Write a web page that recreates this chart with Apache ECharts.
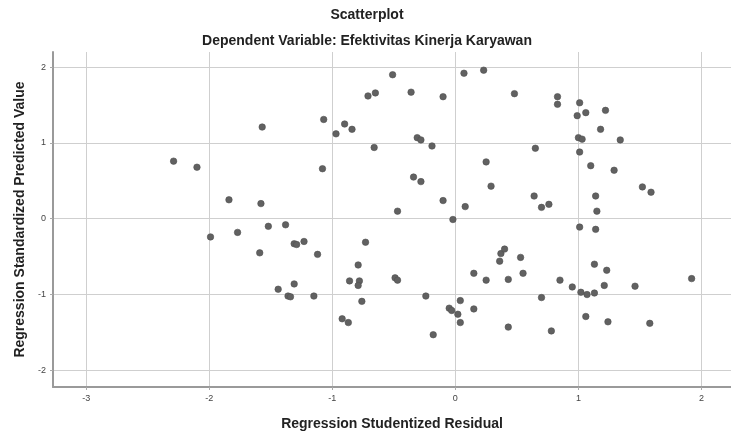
<!DOCTYPE html>
<html>
<head>
<meta charset="utf-8">
<script src="https://cdn.jsdelivr.net/npm/echarts@6/dist/echarts.min.js"></script>
<style>html,body{margin:0;padding:0;background:#fff}#c{width:731px;height:432px}</style>
</head>
<body>
<div id="c"></div>
<script>
const titleText = "Scatterplot";
const subtitleText = "Dependent Variable: Efektivitas Kinerja Karyawan";
const xAxisTitle = "Regression Studentized Residual";
const yAxisTitle = "Regression Standardized Predicted Value";
const xRange = [-3.27, 2.24];
const yRange = [-2.22, 2.2];

const residuals = [
  -1.57, -2.29, -2.10, -1.84, -1.58, -1.52, -1.38, -1.99, -1.77, -1.59, -1.44, -1.36,
  -0.51, 0.07, 0.23, -0.71, -0.65, -0.36, -0.10, 0.48, -1.07, -0.90, -0.97, -0.84,
  -0.31, -0.28, -0.19, -0.66, 0.25, -1.08, -0.34, -0.28, 0.29, -0.10, 0.08, -0.47, -0.02,
  0.83, 0.83, 1.01, 0.99, 1.06, 1.22, 1.18, 1.34, 1.00, 1.03, 0.65, 1.01, 1.10, 1.29,
  1.52, 1.59, 0.64, 1.14, 0.70, 0.76, 1.15, 1.01, 1.14,
  -1.31, -1.29, -1.23, -1.12, -1.31, -1.34, -1.15, -0.73, -0.79, -0.86, -0.78, -0.79,
  -0.76, -0.92, -0.87, -0.49, -0.47, -0.24, -0.18, 0.04, -0.05, -0.03, 0.02, 0.04,
  0.15, 0.25, 0.15, 0.37, 0.40, 0.36, 0.43, 0.53, 0.55, 0.43,
  0.85, 0.95, 1.02, 1.07, 1.13, 1.13, 1.23, 1.21, 1.46, 1.92, 0.70, 1.06, 1.24, 1.58, 0.78
];
const predicted = [
  1.21, 0.76, 0.68, 0.25, 0.20, -0.10, -0.08, -0.24, -0.18, -0.45, -0.93, -1.02,
  1.90, 1.92, 1.96, 1.62, 1.66, 1.67, 1.61, 1.65, 1.31, 1.25, 1.12, 1.18,
  1.07, 1.04, 0.96, 0.94, 0.75, 0.66, 0.55, 0.49, 0.43, 0.24, 0.16, 0.10, -0.01,
  1.61, 1.51, 1.53, 1.36, 1.40, 1.43, 1.18, 1.04, 1.07, 1.05, 0.93, 0.88, 0.70, 0.64,
  0.42, 0.35, 0.30, 0.30, 0.15, 0.19, 0.10, -0.11, -0.14,
  -0.33, -0.34, -0.30, -0.47, -0.86, -1.03, -1.02, -0.31, -0.61, -0.82, -0.82, -0.88,
  -1.09, -1.32, -1.37, -0.78, -0.81, -1.02, -1.53, -1.08, -1.18, -1.21, -1.26, -1.37,
  -0.72, -0.81, -1.19, -0.46, -0.40, -0.56, -0.80, -0.51, -0.72, -1.43,
  -0.81, -0.90, -0.97, -1.00, -0.98, -0.60, -0.68, -0.88, -0.89, -0.79, -1.04, -1.29, -1.36, -1.38, -1.48
];

const points = residuals.map((x, i) => [x, predicted[i]]);
const FONT = '"Liberation Sans", Arial, sans-serif';

const chart = echarts.init(document.getElementById('c'), null, {renderer: 'canvas'});
chart.setOption({
  animation: false,
  backgroundColor: '#ffffff',
  title: [
    {text: titleText, left: 367, top: 8, padding: 0, textAlign: 'center',
     textStyle: {fontFamily: FONT, fontSize: 14, fontWeight: 'bold', color: '#222'}},
    {text: subtitleText, left: 367, top: 34, padding: 0, textAlign: 'center',
     textStyle: {fontFamily: FONT, fontSize: 14, fontWeight: 'bold', color: '#222'}}
  ],
  grid: {left: 53, right: 0, top: 52, bottom: 45, containLabel: false, outerBoundsMode: 'none'},
  xAxis: {
    type: 'value', min: xRange[0], max: xRange[1], splitNumber: 5,
    name: xAxisTitle, nameLocation: 'middle', nameGap: 30,
    nameTextStyle: {fontFamily: FONT, fontSize: 14, fontWeight: 'bold', color: '#222'},
    axisLine: {show: true, onZero: false, lineStyle: {color: '#9a9a9a', width: 2}},
    axisTick: {show: true, length: 3, lineStyle: {color: '#aaa'}},
    axisLabel: {showMinLabel: false, showMaxLabel: false, margin: 7, fontFamily: FONT, fontSize: 9, color: '#444',
      formatter: v => Number.isInteger(v) ? String(v) : ''},
    splitLine: {show: true, showMinLine: false, showMaxLine: false, lineStyle: {color: '#cfcfcf', width: 1}}
  },
  yAxis: {
    type: 'value', min: yRange[0], max: yRange[1], splitNumber: 4,
    name: yAxisTitle, nameLocation: 'middle', nameGap: 26,
    nameTextStyle: {fontFamily: FONT, fontSize: 14, fontWeight: 'bold', color: '#222'},
    axisLine: {show: true, onZero: false, lineStyle: {color: '#9a9a9a', width: 2}},
    axisTick: {show: true, length: 3, lineStyle: {color: '#aaa'}},
    axisLabel: {showMinLabel: false, showMaxLabel: false, margin: 7, fontFamily: FONT, fontSize: 9, color: '#444',
      formatter: v => Number.isInteger(v) ? String(v) : ''},
    splitLine: {show: true, showMinLine: false, showMaxLine: false, lineStyle: {color: '#cfcfcf', width: 1}}
  },
  series: [{
    type: 'scatter',
    data: points,
    symbol: 'circle',
    symbolSize: 6.5,
    itemStyle: {color: '#616161', borderColor: '#505050', borderWidth: 0.6, opacity: 1}
  }]
});
</script>
</body>
</html>
